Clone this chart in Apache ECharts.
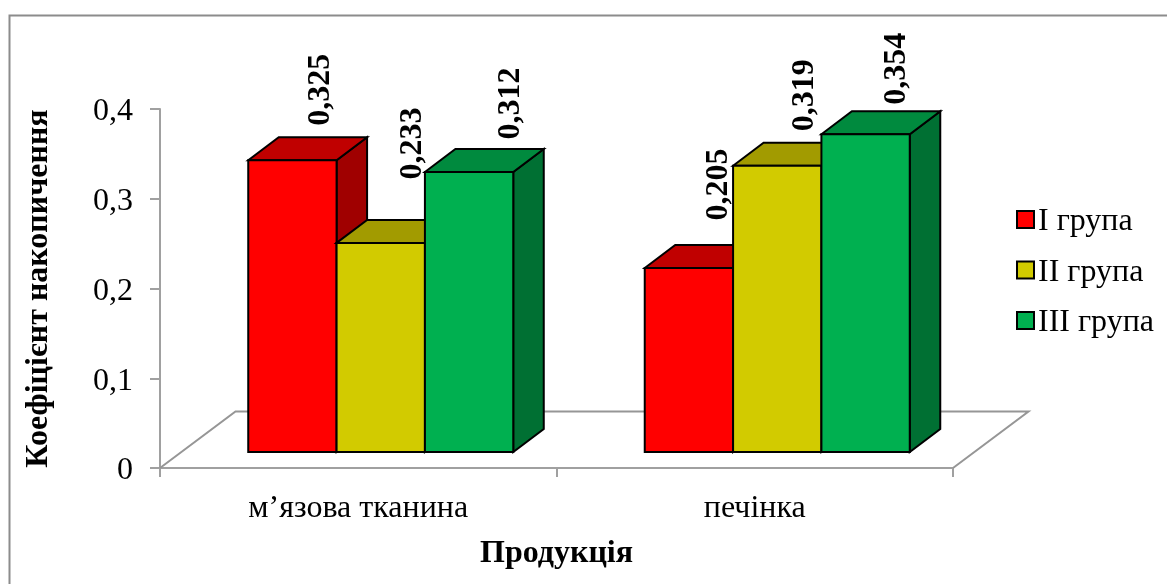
<!DOCTYPE html>
<html>
<head>
<meta charset="utf-8">
<style>html,body{margin:0;padding:0;background:#fff}#c{width:1167px;height:584px}</style>
<script src="https://cdn.jsdelivr.net/npm/echarts@6/dist/echarts.min.js"></script>
</head>
<body>
<div id="c"></div>
<script>
const categories = ['м’язова тканина', 'печінка'];
const seriesNames = ['I група', 'II група', 'III група'];
const group1 = [0.325, 0.205];
const group2 = [0.233, 0.319];
const group3 = [0.312, 0.354];
const yTicks = { min: 0, max: 0.4, interval: 0.1 };

const FONT = '"Liberation Serif", "Times New Roman", serif';
const faces = [
  { front: '#ff0000', top: '#c00000', side: '#a00000' },
  { front: '#d2cb00', top: '#a29b00', side: '#a29b00' },
  { front: '#00b050', top: '#008a3e', side: '#007033' }
];
// depth projection of the pseudo-3D columns, in pixels
const DEPTH = { dx: 30.5, dy: 23, lift: 16, shift: 22.5, barShare: 0.2228 };
const FLOOR = { dx: 75.5, dy: 56.5 };
// manual placement of the rotated value labels [x from bar centre, gap above bar]
const labelNudge = [
  [[28.5, 34.5], [29.5, 47.5]],
  [[31.5, 63.5], [27.5, 34.5]],
  [[41.5, 32.5], [31.5, 29.5]]
];

function barSeries(name, values, idx) {
  return {
    name, type: 'custom', coordinateSystem: 'cartesian2d', z: 3 + idx,
    itemStyle: { color: faces[idx].front, borderColor: '#000', borderWidth: 1.5 },
    encode: { x: 0, y: 1 },
    data: values.map((v, i) => [categories[i], v]),
    renderItem(params, api) {
      const i = params.dataIndex;
      const v = api.value(1);
      const centre = api.coord([i, v]);
      const zero = api.coord([i, 0]);
      const band = api.size([1, 0])[0];
      const w = band * DEPTH.barShare;
      const x0 = centre[0] + DEPTH.shift + (idx - 1.5) * w;
      const x1 = x0 + w;
      const yT = centre[1] - DEPTH.lift;
      const yB = zero[1] - DEPTH.lift;
      const dx = DEPTH.dx, dy = DEPTH.dy;
      const stroke = { stroke: '#000', lineWidth: 2, lineJoin: 'miter' };
      const poly = (pts, fill) => ({ type: 'polygon', shape: { points: pts }, style: Object.assign({ fill }, stroke) });
      const nudge = labelNudge[idx][i];
      return {
        type: 'group',
        children: [
          poly([[x1, yT], [x1 + dx, yT - dy], [x1 + dx, yB - dy], [x1, yB]], faces[idx].side),
          poly([[x0, yT], [x0 + dx, yT - dy], [x1 + dx, yT - dy], [x1, yT]], faces[idx].top),
          poly([[x0, yT], [x1, yT], [x1, yB], [x0, yB]], faces[idx].front),
          {
            type: 'text', x: (x0 + x1) / 2 + nudge[0], y: yT - nudge[1], rotation: Math.PI / 2,
            style: {
              text: String(v.toFixed(3)).replace('.', ','), fill: '#000',
              font: 'bold 32px ' + FONT, textAlign: 'left', textVerticalAlign: 'middle'
            }
          }
        ]
      };
    }
  };
}

const floorSeries = {
  type: 'custom', coordinateSystem: 'cartesian2d', silent: true, z: 1,
  data: [[categories[0], 0]],
  legendHoverLink: false,
  renderItem(params, api) {
    const o = api.coord([0, 0]);
    const band = api.size([1, 0])[0];
    const left = o[0] - band / 2;
    const right = left + band * categories.length;
    return {
      type: 'polyline',
      shape: { points: [[left, o[1]], [left + FLOOR.dx, o[1] - FLOOR.dy], [right + FLOOR.dx, o[1] - FLOOR.dy], [right, o[1]]] },
      style: { stroke: '#969696', lineWidth: 2, fill: 'none' }
    };
  }
};

const chart = echarts.init(document.getElementById('c'), null, { renderer: 'canvas' });
chart.setOption({
  animation: false,
  backgroundColor: '#fff',
  grid: { left: 160, right: 214, top: 109, bottom: 116, containLabel: false, outerBoundsMode: 'none' },
  graphic: [{
    type: 'polyline', silent: true, z: 0,
    shape: { points: [[9.5, 584], [9.5, 15.5], [1167, 15.5]] },
    style: { stroke: '#8c8c8c', lineWidth: 2, fill: 'none' }
  }],
  legend: {
    orient: 'vertical', left: 1016, top: 206, padding: 0, itemWidth: 17, itemHeight: 17, itemGap: 18.5,
    icon: 'rect', data: seriesNames,
    itemStyle: { borderColor: '#000', borderWidth: 2 },
    formatter: n => '{t|' + n + '}',
    textStyle: {
      rich: { t: { fontFamily: FONT, fontSize: 32, color: '#000', padding: [5, 0, 0, -1] } }
    }
  },
  xAxis: {
    type: 'category', data: categories,
    axisLine: { onZero: false, lineStyle: { color: '#a0a0a0', width: 2 } },
    axisTick: { show: true, length: 9, alignWithLabel: false, lineStyle: { color: '#a0a0a0', width: 2 } },
    axisLabel: { color: '#000', fontFamily: FONT, fontSize: 32, margin: 25, interval: 0 },
    name: 'Продукція', nameLocation: 'middle', nameGap: 70,
    nameTextStyle: { color: '#000', fontFamily: FONT, fontSize: 32, fontWeight: 'bold' },
    splitLine: { show: false }
  },
  yAxis: {
    type: 'value', min: yTicks.min, max: yTicks.max, interval: yTicks.interval,
    axisLine: { show: true, lineStyle: { color: '#a0a0a0', width: 2 } },
    axisTick: { show: true, length: 10, lineStyle: { color: '#a0a0a0', width: 2 } },
    axisLabel: {
      margin: 27,
      formatter: v => '{t|' + (v === 0 ? '0' : v.toFixed(1).replace('.', ',')) + '}',
      rich: { t: { color: '#000', fontFamily: FONT, fontSize: 32, padding: [6, 0, 0, 0] } }
    },
    name: 'Коефіцієнт накопичення', nameLocation: 'middle', nameGap: 105, nameRotate: 90,
    nameTextStyle: { color: '#000', fontFamily: FONT, fontSize: 32, fontWeight: 'bold' },
    splitLine: { show: false }
  },
  series: [floorSeries,
    barSeries(seriesNames[0], group1, 0),
    barSeries(seriesNames[1], group2, 1),
    barSeries(seriesNames[2], group3, 2)]
});
</script>
</body>
</html>
